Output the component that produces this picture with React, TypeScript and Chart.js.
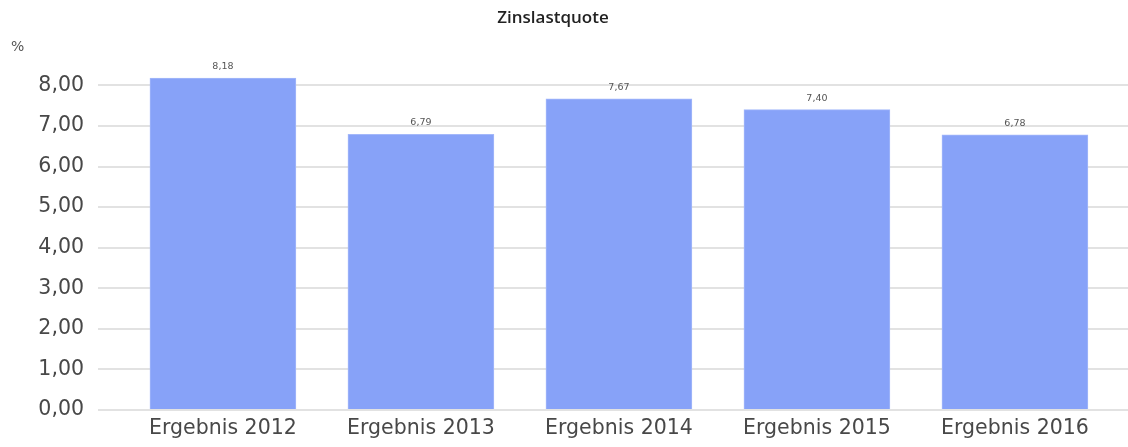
import React, { useEffect, useRef } from "react";
import { Chart, registerables } from "chart.js";

Chart.register(...registerables);

const categories = ["Ergebnis 2012", "Ergebnis 2013", "Ergebnis 2014", "Ergebnis 2015", "Ergebnis 2016"];
const values = [8.18, 6.79, 7.67, 7.4, 6.78];
const yTicks = [0, 1, 2, 3, 4, 5, 6, 7, 8];
const title = "Zinslastquote";
const unit = "%";

const fmt = (v: number) => v.toFixed(2).replace(".", ",");

export default function App() {
  const ref = useRef<HTMLCanvasElement | null>(null);
  useEffect(() => {
    document.body.style.margin = "0";
    const canvas = ref.current!;
    const decor = {
      id: "decor",
      afterDraw(chart: any) {
        const ctx = chart.ctx;
        ctx.save();
        ctx.fillStyle = "#222";
        ctx.font = "600 17px 'Open Sans', sans-serif";
        ctx.textAlign = "center";
        ctx.textBaseline = "alphabetic";
        ctx.fillText(title, 553, 23);
        ctx.fillStyle = "#555";
        ctx.font = "14px 'DejaVu Sans', sans-serif";
        ctx.textAlign = "left";
        ctx.textBaseline = "middle";
        ctx.fillText(unit, 11, 47);
        const meta = chart.getDatasetMeta(0);
        ctx.font = "9.5px 'DejaVu Sans', sans-serif";
        ctx.fillStyle = "#555";
        ctx.textAlign = "center";
        ctx.textBaseline = "alphabetic";
        meta.data.forEach((bar: any, i: number) => {
          ctx.fillText(fmt(values[i]), bar.x, bar.y - 9);
        });
        ctx.restore();
      },
    };
    const chart = new Chart(canvas, {
      type: "bar",
      data: {
        datasets: [
          {
            data: values.map((v, i) => ({ x: i, y: v })),
            backgroundColor: "#87a2f8",
            borderColor: "#a4b8fa",
            borderWidth: 1,
            barThickness: 146,
          },
        ],
      },
      options: {
        animation: false,
        responsive: false,
        layout: { padding: { top: 61, right: 0, left: 0, bottom: 0 } },
        plugins: { legend: { display: false }, tooltip: { enabled: false } },
        scales: {
          x: {
            type: "linear",
            offset: false,
            min: -0.631,
            max: 4.571,
            afterBuildTicks: (s: any) => {
              s.ticks = categories.map((_, i) => ({ value: i }));
            },
            afterFit: (s: any) => {
              s.height = 37;
            },
            grid: { display: false, drawTicks: false, offset: false },
            border: { display: false },
            ticks: {
              padding: 6,
              color: "#484848",
              font: { family: "'DejaVu Sans', sans-serif", size: 20.5 },
              callback: (v: any) => categories[Math.round(v)] ?? "",
            },
          },
          y: {
            min: 0,
            max: 8.6,
            afterBuildTicks: (s: any) => {
              s.ticks = yTicks.map((v) => ({ value: v }));
            },
            afterFit: (s: any) => {
              s.width = 98;
            },
            grid: { color: "#e2e2e2", lineWidth: 2, drawTicks: false },
            border: { display: false },
            ticks: {
              padding: 14,
              color: "#484848",
              font: { family: "'DejaVu Sans', sans-serif", size: 20.5 },
              callback: (v: any) => fmt(Number(v)),
            },
          },
        },
      },
      plugins: [decor],
    } as any);
    return () => chart.destroy();
  }, []);
  return <canvas ref={ref} width={1128} height={447} style={{ display: "block" }} />;
}
